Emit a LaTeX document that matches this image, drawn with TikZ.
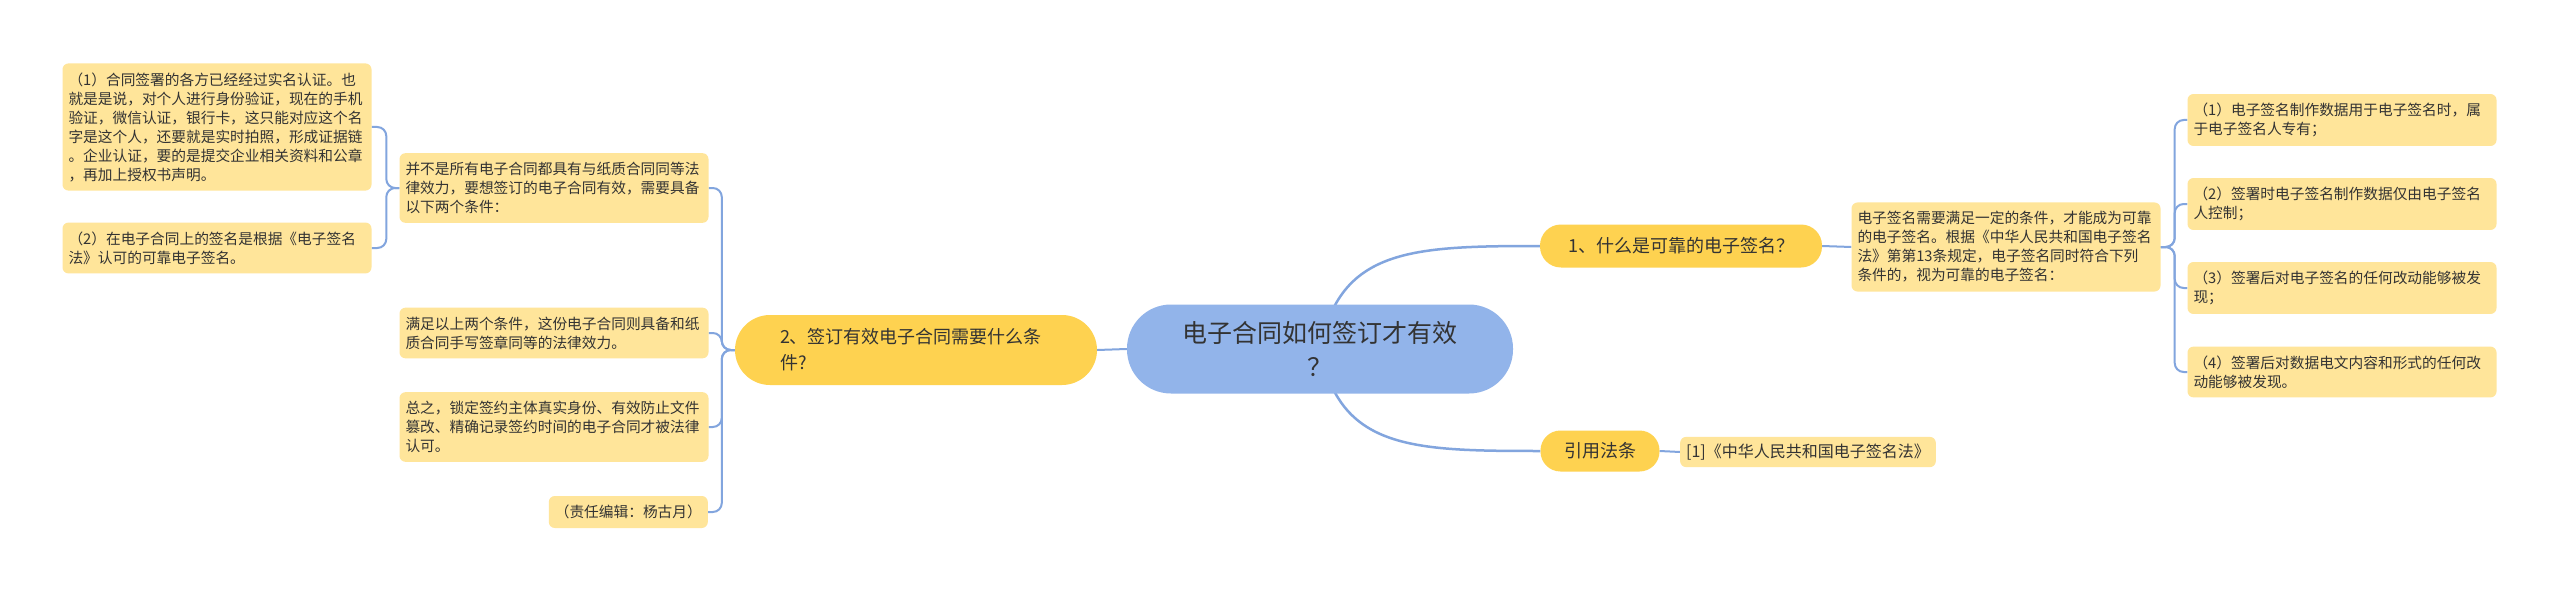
\documentclass[tikz,border=0pt]{standalone}
\usepackage{fontspec}
\newfontfamily\cjk{Noto Sans CJK SC}
\usetikzlibrary{backgrounds}

\definecolor{rootfill}{RGB}{146,180,234}
\definecolor{branchfill}{RGB}{254,210,80}
\definecolor{leaffill}{RGB}{255,229,154}
\definecolor{linkcol}{RGB}{130,165,222}
\definecolor{txtcol}{RGB}{51,51,51}

\begin{document}
\begin{tikzpicture}[x=1pt, y=-1pt,
  leaf/.style={fill=leaffill, rounded corners=6pt, text=txtcol, align=left,
    inner xsep=6pt, inner ysep=9pt, font=\cjk\fontsize{14.7}{19}\selectfont},
  branch/.style={fill=branchfill, text=txtcol, align=center, inner sep=0pt,
    font=\cjk\fontsize{18}{26}\selectfont},
  link/.style={draw=linkcol, line width=2pt, rounded corners=9pt},
  curvelink/.style={draw=linkcol, line width=2.5pt}]
  \useasboundingbox (0, 0) rectangle (2560, 591);

  % centre
  \node[fill=rootfill, rounded corners=44pt, text=txtcol, align=center,
    minimum width=386pt, minimum height=89pt, inner sep=0pt,
    font=\cjk\fontsize{25}{34}\selectfont] (root) at (1320, 349)
    {电子合同如何签订才有效\\？};

  % branches
  \node[branch, rounded corners=21pt, minimum width=282pt, minimum height=43pt]
    (B1) at (1681, 246) {1、什么是可靠的电子签名？};
  \node[branch, rounded corners=35pt, align=left, text width=272pt,
    inner xsep=45pt, minimum height=70pt]
    (B2) at (916, 350) {2、签订有效电子合同需要什么条\\件?};
  \node[branch, rounded corners=20pt, minimum width=119pt, minimum height=41pt]
    (B3) at (1600, 451) {引用法条};

  % left side
  \node[leaf, text width=297pt] (M1) at (554, 188)
    {并不是所有电子合同都具有与纸质合同同等法\\
     律效力，要想签订的电子合同有效，需要具备\\
     以下两个条件：};
  \node[leaf, text width=297pt] (L1) at (217, 127)
    {（1）合同签署的各方已经经过实名认证。也\\
     就是是说，对个人进行身份验证，现在的手机\\
     验证，微信认证，银行卡，这只能对应这个名\\
     字是这个人，还要就是实时拍照，形成证据链\\
     。企业认证，要的是提交企业相关资料和公章\\
     ，再加上授权书声明。};
  \node[leaf, text width=297pt] (L2) at (217, 248)
    {（2）在电子合同上的签名是根据《电子签名\\
     法》认可的可靠电子签名。};
  \node[leaf, text width=297pt] (M2) at (554, 333)
    {满足以上两个条件，这份电子合同则具备和纸\\
     质合同手写签章同等的法律效力。};
  \node[leaf, text width=297pt] (M3) at (554, 427)
    {总之，锁定签约主体真实身份、有效防止文件\\
     篡改、精确记录签约时间的电子合同才被法律\\
     认可。};
  \node[leaf, anchor=east] (M4) at (708, 512) {（责任编辑：杨古月）};

  % right side
  \node[leaf, text width=297pt] (R0) at (2006, 247)
    {电子签名需要满足一定的条件，才能成为可靠\\
     的电子签名。根据《中华人民共和国电子签名\\
     法》第第13条规定，电子签名同时符合下列\\
     条件的，视为可靠的电子签名：};
  \node[leaf, text width=297pt] (R1) at (2342, 120)
    {（1）电子签名制作数据用于电子签名时，属\\于电子签名人专有；};
  \node[leaf, text width=297pt] (R2) at (2342, 204)
    {（2）签署时电子签名制作数据仅由电子签名\\人控制；};
  \node[leaf, text width=297pt] (R3) at (2342, 288)
    {（3）签署后对电子签名的任何改动能够被发\\现；};
  \node[leaf, text width=297pt] (R4) at (2342, 372)
    {（4）签署后对数据电文内容和形式的任何改\\动能够被发现。};
  \node[leaf, minimum width=238pt, align=center, inner ysep=7pt,
    font=\cjk\fontsize{16}{19}\selectfont] (ref) at (1808, 452)
    {[1]《中华人民共和国电子签名法》};

  \begin{scope}[on background layer]
    \fill[white] (0, 0) rectangle (2560, 591);
    \draw[link] (root.west) -- (B2.east);
    \draw[curvelink] (root.center) .. controls +(20, -100) and +(-130, 0) .. (B1.west);
    \draw[curvelink] (root.center) .. controls +(20, 100) and +(-130, 0) .. (B3.west);
    \draw[link] (B1.east) -- (R0.west);
    \draw[link] (B3.east) -- (ref.west);
    \foreach \m in {M1, M2, M3, M4}
      \draw[link] (B2.west) -- ++(-13, 0) |- (\m.east);
    \foreach \l in {L1, L2}
      \draw[link] (M1.west) -- ++(-13, 0) |- (\l.east);
    \foreach \r in {R1, R2, R3, R4}
      \draw[link] (R0.east) -- ++(14, 0) |- (\r.west);
  \end{scope}
\end{tikzpicture}
\end{document}
